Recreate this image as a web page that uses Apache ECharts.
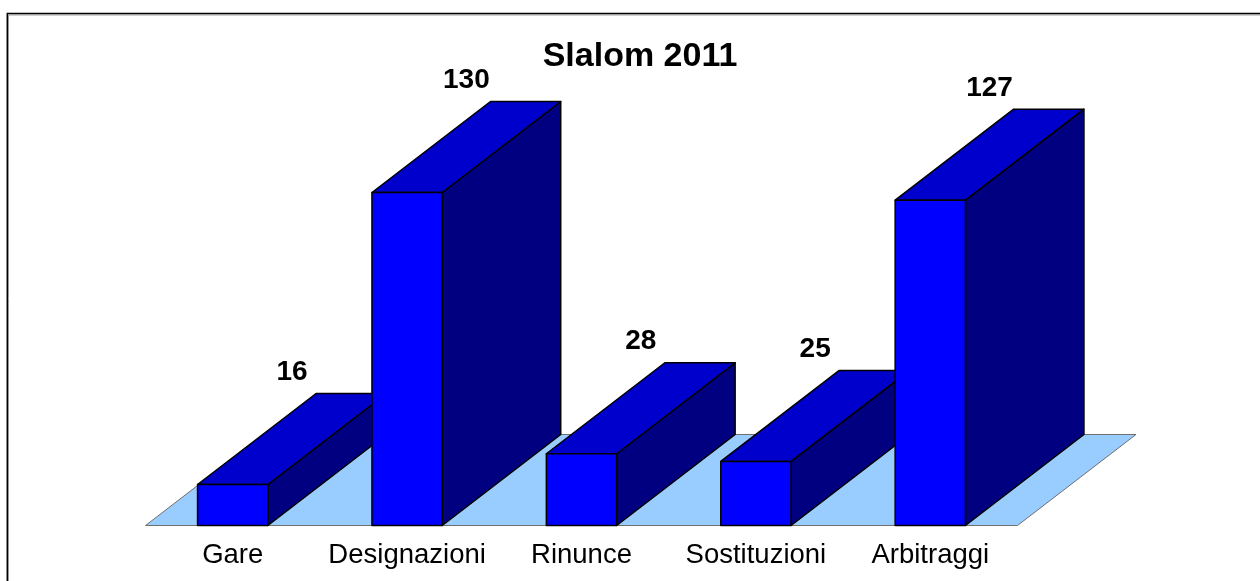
<!DOCTYPE html>
<html>
<head>
<meta charset="utf-8">
<script src="https://cdn.jsdelivr.net/npm/echarts@6/dist/echarts.min.js"></script>
<style>
  html, body { margin: 0; padding: 0; background: #fff; }
  #chart { width: 1260px; height: 581px; }
</style>
</head>
<body>
<div id="chart"></div>
<script>
// data
const categories = ["Gare", "Designazioni", "Rinunce", "Sostituzioni", "Arbitraggi"];
const values = [16, 130, 28, 25, 127];
const chartTitle = "Slalom 2011";

// look of the fake 3d bars
const FONT = "'Liberation Sans', Arial, sans-serif";
const BAR_RATIO = 0.403;   // bar width / category band
const DEPTH_X = 118.5;     // oblique depth offset
const DEPTH_Y = -91;
const FRONT = "#0000ff";
const TOP = "#0000cc";
const SIDE = "#000080";
const FLOOR = "#99ccff";

const chart = echarts.init(document.getElementById("chart"));

// floor under the bars (one item, spans all categories)
function renderFloor(params, api) {
  const band = api.size([1, 0])[0];
  const first = api.coord([0, 0]);
  const last = api.coord([categories.length - 1, 0]);
  const xl = first[0] - band / 2;
  const xr = last[0] + band / 2;
  const y = first[1];
  return {
    type: "polygon",
    shape: {
      points: [[xl, y], [xl + DEPTH_X, y + DEPTH_Y], [xr + DEPTH_X, y + DEPTH_Y], [xr, y]],
    },
    style: { fill: FLOOR, stroke: "#6f6f6f", lineWidth: 1 },
  };
}

function renderBar(params, api) {
  const i = api.value(0);
  const v = api.value(1);
  const base = api.coord([i, 0]);
  const top = api.coord([i, v]);
  const band = api.size([1, 0])[0];
  const w = band * BAR_RATIO;
  const x0 = base[0] - w / 2;
  const x1 = base[0] + w / 2;
  const edge = { stroke: "#000", lineWidth: 1.5, lineJoin: "round" };
  return {
    type: "group",
    children: [
      {
        type: "polygon",
        shape: {
          points: [[x1, base[1]], [x1 + DEPTH_X, base[1] + DEPTH_Y], [x1 + DEPTH_X, top[1] + DEPTH_Y], [x1, top[1]]],
        },
        style: Object.assign({ fill: SIDE }, edge),
      },
      {
        type: "polygon",
        shape: {
          points: [[x0, top[1]], [x0 + DEPTH_X, top[1] + DEPTH_Y], [x1 + DEPTH_X, top[1] + DEPTH_Y], [x1, top[1]]],
        },
        style: Object.assign({ fill: TOP }, edge),
      },
      {
        type: "rect",
        shape: { x: x0, y: top[1], width: w, height: base[1] - top[1] },
        style: Object.assign({ fill: FRONT }, edge),
      },
      {
        type: "text",
        x: base[0] + DEPTH_X / 2,
        y: top[1] + DEPTH_Y - 21,
        style: {
          text: String(v),
          fill: "#000",
          font: "bold 28px " + FONT,
          align: "center",
          verticalAlign: "middle",
        },
      },
    ],
  };
}

chart.setOption({
  backgroundColor: "#fff",
  animation: false,
  title: {
    text: chartTitle,
    left: 635,
    top: 35,
    textAlign: "center",
    textStyle: { fontFamily: FONT, fontSize: 34, fontWeight: "bold", color: "#000" },
  },
  graphic: [
    // frame of the chart area (right and bottom run off the picture)
    {
      type: "rect",
      shape: { x: 8.5, y: 15, width: 1300, height: 700 },
      style: { fill: null, stroke: "#a0a0a0", lineWidth: 1 },
      z: 0,
    },
    {
      type: "rect",
      shape: { x: 7.3, y: 13.6, width: 1300, height: 700 },
      style: { fill: null, stroke: "#000", lineWidth: 1.5 },
      z: 0,
    },
  ],
  grid: {
    left: 145.5,
    right: 242.5,
    top: 192.5,
    bottom: 55.5,
  },
  xAxis: {
    type: "category",
    data: categories,
    axisLine: { show: false },
    axisTick: { show: false },
    axisLabel: {
      fontFamily: FONT,
      fontSize: 27.5,
      color: "#000",
      margin: 16,
      interval: 0,
    },
    splitLine: { show: false },
  },
  yAxis: {
    type: "value",
    min: 0,
    max: 130,
    show: false,
    splitLine: { show: false },
  },
  series: [
    {
      type: "custom",
      clip: false,
      z: 1,
      data: [[0, 0]],
      encode: { x: 0, y: 1 },
      renderItem: renderFloor,
    },
    {
      type: "custom",
      clip: false,
      z: 2,
      data: values.map((v, i) => [i, v]),
      encode: { x: 0, y: 1 },
      renderItem: renderBar,
    },
  ],
});
</script>
</body>
</html>
